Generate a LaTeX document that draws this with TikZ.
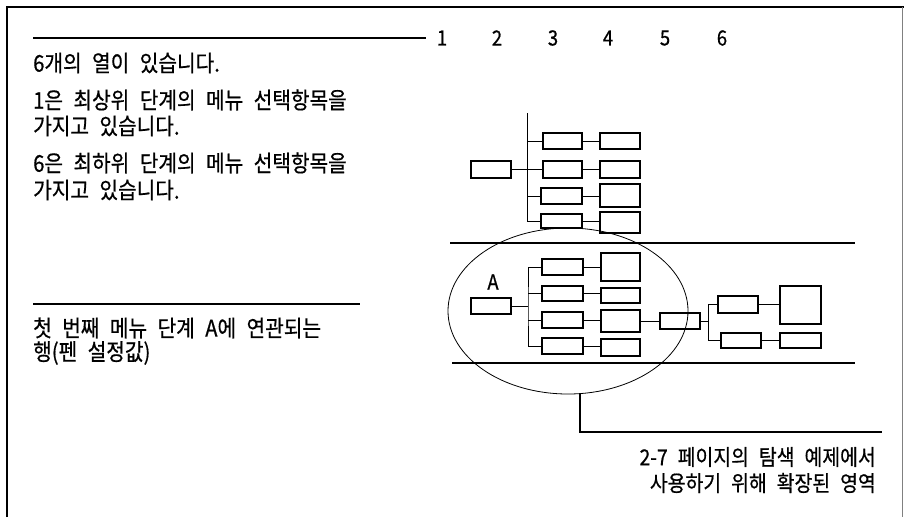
\documentclass[tikz,border=0pt]{standalone}
\usepackage{fontspec}
\setmainfont[WordSpace=2.3, FakeBold=0.6, FakeStretch=0.88]{Noto Sans CJK KR}
\usepackage{tikz}
\usetikzlibrary{shapes.geometric, positioning, calc}

\begin{document}
\begin{tikzpicture}[
  x=1pt, y=-1pt,
  menubox/.style={rectangle, draw, line width=1.3pt, minimum width=40pt, minimum height=16pt, inner sep=0pt},
  link/.style={line width=1pt},
  rule/.style={line width=1.6pt},
  note/.style={anchor=west, inner sep=0pt, font=\fontsize{23}{25}\selectfont},
  colnum/.style={inner sep=0pt, font=\fontsize{21}{23}\selectfont}
]
  \useasboundingbox (0,0) rectangle (904,517);

  % frame
  \draw[line width=2pt] (7,517) -- (7,7) -- (904,7);
  \draw[line width=0.6pt, gray] (902,7) -- (902,517);

  % column numbers
  \draw[rule] (33,38) -- (426,38);
  \foreach \n/\x in {1/442, 2/497, 3/553, 4/608, 5/665, 6/722}
    \node[colnum] (col\n) at (\x,38) {\n};

  % notes on the left
  \node[note] (n1) at (33,63) {6개의 열이 있습니다.};
  \node[note] (n2) at (33,100) {1은 최상위 단계의 메뉴 선택항목을};
  \node[note] (n3) at (33,126) {가지고 있습니다.};
  \node[note] (n4) at (33,163) {6은 최하위 단계의 메뉴 선택항목을};
  \node[note] (n5) at (33,190) {가지고 있습니다.};
  \draw[rule] (33,304) -- (360,304);
  \node[note] (n6) at (33,328) {첫 번째 메뉴 단계 A에 연관되는};
  \node[note] (n7) at (33,353) {행(펜 설정값)};

  % upper menu tree
  \node[menubox, minimum height=17pt] (t0) at (491,169.5) {};
  \node[menubox, minimum width=39pt] (t31) at (562.5,141) {};
  \node[menubox, minimum width=39pt, minimum height=17pt] (t32) at (562.5,169.5) {};
  \node[menubox, minimum width=41pt] (t33) at (561.5,196) {};
  \node[menubox, minimum width=41pt, minimum height=14pt] (t34) at (561.5,221) {};
  \node[menubox] (t41) at (620,141) {};
  \node[menubox, minimum height=17pt] (t42) at (620,169.5) {};
  \node[menubox, minimum height=23pt] (t43) at (620,195.5) {};
  \node[menubox, minimum height=21pt] (t44) at (620,222.5) {};
  \coordinate (ttop) at (527,113);
  \draw[link] (ttop) |- (t34.west);
  \draw[link] (t0.east) -- (t0.east -| ttop);
  \foreach \r in {1,2,3}
    \draw[link] (t3\r.west -| ttop) -- (t3\r.west);
  \foreach \r in {1,2,3,4}
    \draw[link] (t3\r.east) -- (t3\r.east -| t4\r.west);

  % rows of level A
  \draw[rule] (450,243) -- (855,243);
  \draw[rule] (452,363) -- (855,363);
  \node[font=\fontsize{21}{23}\selectfont] (lblA) at (493,282) {A};
  \node[menubox] (a0) at (491,306) {};
  \node[menubox, minimum width=41pt] (a31) at (562.5,267) {};
  \node[menubox, minimum width=41pt, minimum height=15pt] (a32) at (562.5,293.5) {};
  \node[menubox, minimum width=41pt] (a33) at (562.5,320) {};
  \node[menubox, minimum width=41pt] (a34) at (562.5,346) {};
  \node[menubox, minimum width=39pt, minimum height=28pt] (a41) at (620.5,267) {};
  \node[menubox, minimum width=39pt, minimum height=15pt] (a42) at (620.5,295.5) {};
  \node[menubox, minimum width=39pt, minimum height=22pt] (a43) at (620.5,321) {};
  \node[menubox, minimum width=39pt, minimum height=17pt] (a44) at (620.5,347.5) {};
  \node[menubox] (a5) at (680,321) {};
  \node[menubox, minimum height=17pt] (a61) at (738,304.5) {};
  \node[menubox, minimum height=15pt] (a62) at (741,340.5) {};
  \node[menubox, minimum width=41pt, minimum height=38pt] (a71) at (800.5,305) {};
  \node[menubox, minimum width=41pt, minimum height=15pt] (a72) at (800.5,340.5) {};
  \coordinate (atrunk) at (528,306);
  \draw[link] (a31.west) -| (atrunk) |- (a34.west);
  \draw[link] (a0.east) -- (atrunk);
  \draw[link] (a32.west -| atrunk) -- (a32.west);
  \draw[link] (a33.west -| atrunk) -- (a33.west);
  \foreach \r in {1,2,3,4}
    \draw[link] (a3\r.east) -- (a3\r.east -| a4\r.west);
  \draw[link] (a43.east) -- (a5.west);
  \coordinate (btrunk) at (708,321);
  \draw[link] (a5.east) -- (btrunk);
  \draw[link] (a61.west) -| (btrunk) |- (a62.west);
  \draw[link] (a61.east) -- (a61.east -| a71.west);
  \draw[link] (a62.east) -- (a72.west);

  % enlarged area
  \node[draw, ellipse, line width=0.8pt, minimum width=240pt, minimum height=166pt] (zone) at (568,311) {};
  \coordinate (callout) at (580,432);
  \draw[line width=1.4pt] (zone.south -| callout) -- (callout) -- (882,432);
  \node[anchor=east, inner sep=0pt, font=\fontsize{22}{24}\selectfont] (c1) at (876,457) {2-7 페이지의 탐색 예제에서};
  \node[anchor=east, inner sep=0pt, font=\fontsize{22}{24}\selectfont] (c2) at (876,483) {사용하기 위해 확장된 영역};
\end{tikzpicture}
\end{document}
